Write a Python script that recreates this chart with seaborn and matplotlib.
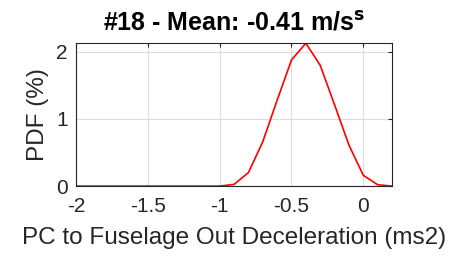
import matplotlib
matplotlib.use("Agg")
import matplotlib.pyplot as plt
import seaborn as sns
import numpy as np
import pandas as pd

# Data (bin centres every 0.1)
x_vals = [-2.0, -1.9, -1.8, -1.7, -1.6, -1.5, -1.4, -1.3, -1.2, -1.1, -1.0,
          -0.9, -0.8, -0.7, -0.6, -0.5, -0.4, -0.3, -0.2, -0.1, 0.0, 0.1, 0.2]
pdf_vals = [0, 0, 0, 0, 0, 0, 0, 0, 0, 0, 0.0,
            0.025, 0.2, 0.66, 1.28, 1.88, 2.13, 1.80, 1.21, 0.61, 0.16, 0.02, 0.0]
x_ticks = [-2, -1.5, -1, -0.5, 0]
x_ticklabels = ["-2", "-1.5", "-1", "-0.5", "0"]
y_ticks = [0, 1, 2]

df = pd.DataFrame({"x": x_vals, "pdf": pdf_vals})

sns.set_style("white")
plt.rcParams['font.family'] = ['Liberation Sans', 'DejaVu Sans']

fig = plt.figure(figsize=(4.58, 2.57), dpi=100)
ax = fig.add_axes([0.166, 0.276, 0.690, 0.557])

sns.lineplot(data=df, x="x", y="pdf", color="red", linewidth=1.2, ax=ax)

ax.set_xlim(-2, 0.2)
ax.set_ylim(0, 2.134)
ax.set_xticks(x_ticks)
ax.set_xticklabels(x_ticklabels)
ax.set_yticks(y_ticks)
ax.grid(True, color="#dddddd", linewidth=0.8)
ax.tick_params(direction="in", top=True, right=True, length=3, width=0.8,
               labelsize=15, colors="#262626")
ax.tick_params(axis="x", pad=8)
ax.tick_params(axis="y", pad=6)
for s in ax.spines.values():
    s.set_color("#262626")
    s.set_linewidth(0.8)

ax.set_xlabel("PC to Fuselage Out Deceleration (ms2)", fontsize=17.5, color="#262626", labelpad=8)
ax.set_ylabel("PDF (%)", fontsize=17.5, color="#262626", labelpad=5)
ax.set_title(r"#18 - Mean: -0.41 m/s$^{\mathbf{s}}$", fontsize=18, fontweight="bold",
             color="black", pad=9)

fig.savefig("out.png", dpi=100)
